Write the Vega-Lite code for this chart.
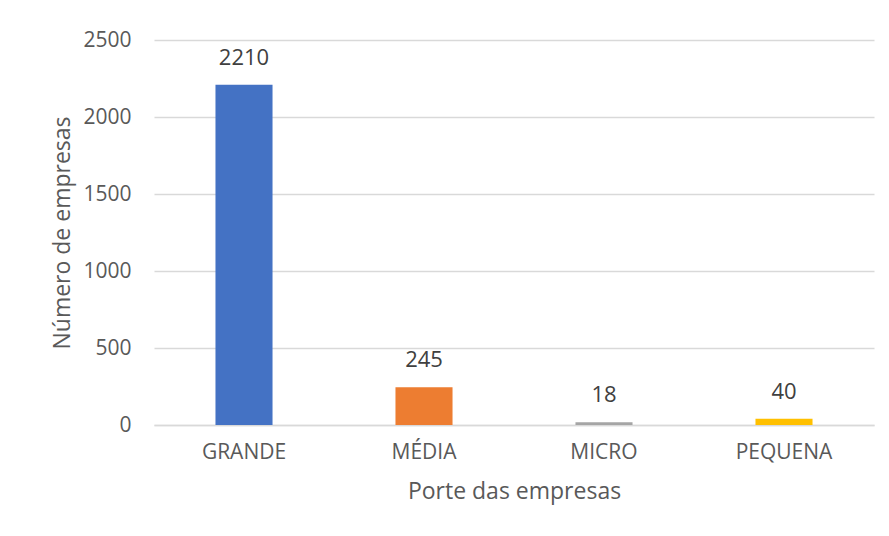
{
  "$schema": "https://vega.github.io/schema/vega-lite/v6.json",
  "autosize": "none",
  "width": 720,
  "height": 385,
  "padding": {"left": 154, "top": 40, "right": 15, "bottom": 111},
  "background": "white",
  "config": {
    "font": "Open Sans",
    "view": {"stroke": null},
    "axis": {"labelFont": "Open Sans", "titleFont": "Open Sans", "labelColor": "#595959", "titleColor": "#595959", "labelFontSize": 21, "titleFontSize": 23, "titleFontWeight": "normal"}
  },
  "data": {
    "values": [
      {"porte": "GRANDE", "n": 2210},
      {"porte": "MÉDIA", "n": 245},
      {"porte": "MICRO", "n": 18},
      {"porte": "PEQUENA", "n": 40}
    ]
  },
  "encoding": {
    "x": {
      "field": "porte", "type": "nominal", "sort": null,
      "scale": {"paddingInner": 0.683, "paddingOuter": 0.3415},
      "axis": {"title": "Porte das empresas", "labelAngle": 0, "ticks": false, "domainColor": "#d9d9d9", "domainWidth": 1.5, "labelPadding": 16, "titlePadding": 18}
    },
    "y": {
      "field": "n", "type": "quantitative",
      "scale": {"domain": [0, 2500]},
      "axis": {"title": "Número de empresas", "format": "d", "values": [0, 500, 1000, 1500, 2000, 2500], "domain": false, "ticks": false, "gridColor": "#d9d9d9", "gridWidth": 1.5, "labelPadding": 23, "titlePadding": 8}
    }
  },
  "layer": [
    {
      "mark": {"type": "bar"},
      "encoding": {
        "color": {
          "field": "porte", "type": "nominal", "sort": null,
          "scale": {"domain": ["GRANDE", "MÉDIA", "MICRO", "PEQUENA"], "range": ["#4472C4", "#ED7D31", "#A5A5A5", "#FFC000"]},
          "legend": null
        }
      }
    },
    {
      "mark": {"type": "text", "baseline": "bottom", "dy": -15, "fontSize": 22, "color": "#404040", "font": "Open Sans"},
      "encoding": {"text": {"field": "n", "type": "quantitative"}}
    }
  ]
}
